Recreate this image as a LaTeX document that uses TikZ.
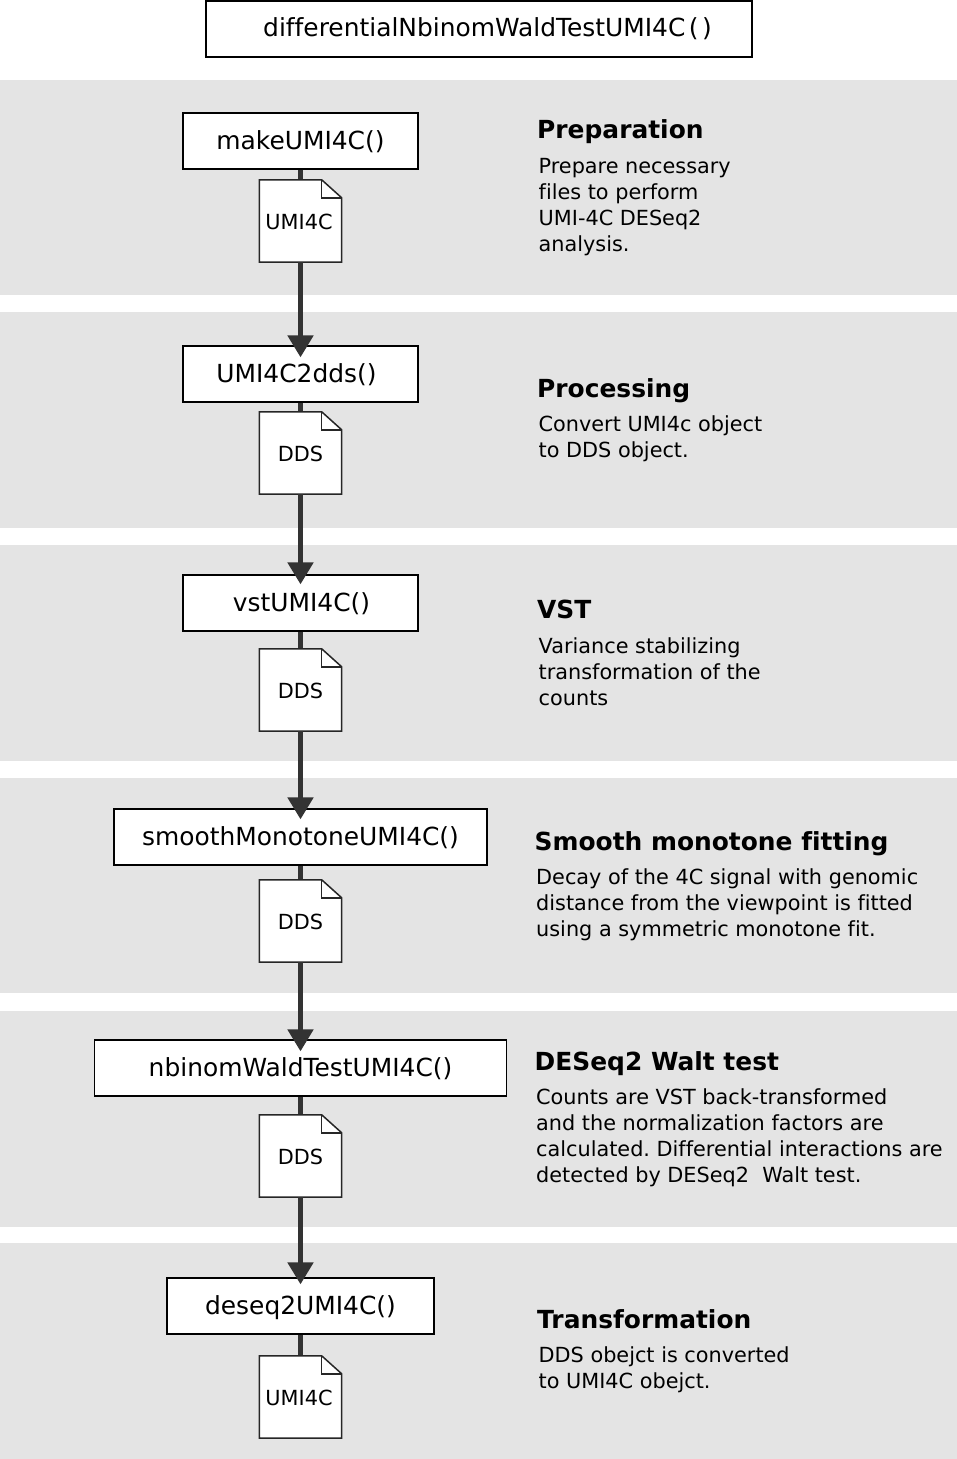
\documentclass[tikz,border=0pt]{standalone}
\usepackage{fontspec}
\setmainfont[Ligatures=NoCommon]{DejaVu Sans}
\frenchspacing
\usetikzlibrary{calc,arrows.meta}
\definecolor{band}{HTML}{E4E4E4}
\definecolor{ink}{HTML}{333333}
\tikzset{
  bandbg/.style={fill=band,draw=none},
  funcbox/.style={draw=black,line width=1.25pt,fill=white,inner sep=0pt,minimum height=56pt,text height=20pt,text depth=2.5pt,font=\fontsize{24.9}{28}\selectfont},
  docbox/.style={inner sep=0pt,minimum width=82pt,minimum height=82pt,font=\fontsize{20.8}{24}\selectfont},
  docline/.style={draw=black!85,line width=1.5pt,line join=miter},
  stem/.style={draw=ink,line width=5pt},
  flow/.style={draw=ink,line width=5pt,-{Triangle[length=22pt,width=25pt]}},
  head/.style={anchor=base west,inner sep=0pt,font=\fontsize{24.9}{28}\selectfont\bfseries},
  body/.style={anchor=north west,inner sep=0pt,align=left,font=\fontsize{20.8}{26}\selectfont},
}
\newcommand{\docshape}[1]{%
  \draw[docline,fill=white] (#1.north west) -- ($(#1.north east)+(-20pt,0)$) -- ($(#1.north east)+(0,-18pt)$) -- (#1.south east) -- (#1.south west) -- cycle;
  \draw[docline] ($(#1.north east)+(-20pt,0)$) -- ($(#1.north east)+(-20pt,-18pt)$) -- ($(#1.north east)+(0,-18pt)$);
}
\begin{document}
\begin{tikzpicture}[x=1pt,y=-1pt]
\useasboundingbox (0,0) rectangle (957,1459);
\fill[bandbg] (0,80) rectangle (957,295);
\fill[bandbg] (0,312) rectangle (957,528);
\fill[bandbg] (0,545) rectangle (957,761);
\fill[bandbg] (0,778) rectangle (957,993);
\fill[bandbg] (0,1011) rectangle (957,1227);
\fill[bandbg] (0,1243) rectangle (957,1459);

\node[funcbox,line width=2pt,minimum width=546pt,text height=19pt,text depth=3.3pt] (top) at (478.5,29) {\hspace*{18pt}differentialNbinomWaldTestUMI4C\kern3.5pt(\kern3.5pt)};

\node[funcbox,minimum width=235pt] (f1) at (300.5,141) {makeUMI4C()};
\node[funcbox,minimum width=235pt] (f2) at (300.5,374) {\kern-8pt UMI4C2dds()};
\node[funcbox,minimum width=235pt] (f3) at (300.5,603) {\kern2pt vstUMI4C()};
\node[funcbox,minimum width=373pt] (f4) at (300.5,837) {smoothMonotoneUMI4C()};
\node[funcbox,minimum width=412pt] (f5) at (300.5,1068) {nbinomWaldTestUMI4C()};
\node[funcbox,minimum width=267pt] (f6) at (300.5,1306) {deseq2UMI4C()};

\coordinate (d1c) at (300.5,221);
\coordinate (d2c) at (300.5,453);
\coordinate (d3c) at (300.5,690);
\coordinate (d4c) at (300.5,921);
\coordinate (d5c) at (300.5,1156);
\coordinate (d6c) at (300.5,1397);

\node[docbox] (d1) at (d1c) {};
\node[docbox] (d2) at (d2c) {};
\node[docbox] (d3) at (d3c) {};
\node[docbox] (d4) at (d4c) {};
\node[docbox] (d5) at (d5c) {};
\node[docbox] (d6) at (d6c) {};

\draw[stem] (f1.south) -- (d1.north);
\draw[stem] (f2.south) -- (d2.north);
\draw[stem] (f3.south) -- (d3.north);
\draw[stem] (f4.south) -- (d4.north);
\draw[stem] (f5.south) -- (d5.north);
\draw[stem] (f6.south) -- (d6.north);

\docshape{d1}\docshape{d2}\docshape{d3}\docshape{d4}\docshape{d5}\docshape{d6}

\node[docbox,yshift=-0.5pt] (t1) at (d1c) {\kern-3pt UMI4C};
\node[docbox,yshift=-0.5pt] (t2) at (d2c) {DDS};
\node[docbox,yshift=-0.5pt] (t3) at (d3c) {DDS};
\node[docbox,yshift=-0.5pt] (t4) at (d4c) {DDS};
\node[docbox,yshift=-0.5pt] (t5) at (d5c) {DDS};
\node[docbox,yshift=-0.5pt] (t6) at (d6c) {\kern-3pt UMI4C};

\draw[flow,shorten >=-12pt] (d1.south) -- (f2.north);
\draw[flow,shorten >=-10pt] (d2.south) -- (f3.north);
\draw[flow,shorten >=-11pt] (d3.south) -- (f4.north);
\draw[flow,shorten >=-12pt] (d4.south) -- (f5.north);
\draw[flow,shorten >=-7pt] (d5.south) -- (f6.north);

\node[head] (h1) at (537,138) {Preparation};
\node[body] (b1) at (538.5,158) {Prepare necessary\\files to perform\\UMI-4C DESeq2\\analysis.};
\node[head] (h2) at (537,397) {Processing};
\node[body] (b2) at (538.5,415.5) {Convert UMI4c object\\to DDS object.};
\node[head] (h3) at (537,618) {VST};
\node[body] (b3) at (538.5,637) {Variance stabilizing\\transformation of the\\counts};
\node[head] (h4) at (534.5,850) {Smooth monotone fitting};
\node[body] (b4) at (536,868) {Decay of the 4C signal with genomic\\distance from the viewpoint is fitted\\using a symmetric monotone fit.};
\node[head] (h5) at (534.5,1070) {DESeq2 Walt test};
\node[body] (b5) at (536,1088) {Counts are VST back-transformed\\and the normalization factors are\\calculated. Differential interactions are\\detected by DESeq2\kern6.6pt\ Walt test.};
\node[head] (h6) at (537,1328) {Transformation};
\node[body] (b6) at (538.5,1346) {DDS obejct is converted\\to UMI4C obejct.};
\end{tikzpicture}
\end{document}
